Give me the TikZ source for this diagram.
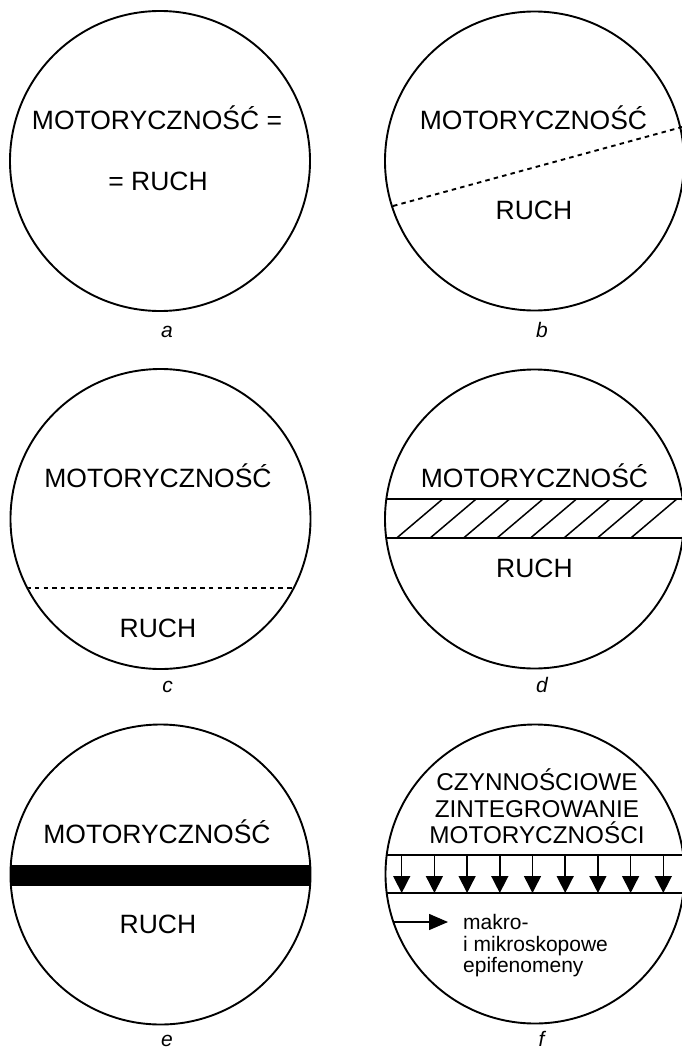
\documentclass[tikz,border=0pt]{standalone}
\usepackage{fontspec}
\setmainfont{Liberation Sans}
\usetikzlibrary{arrows.meta}
\begin{document}
\begin{tikzpicture}[x=1pt,y=-1pt,
  ring/.style={draw, line width=1.9pt},
  chord/.style={line width=1.9pt},
  dashchord/.style={line width=1.9pt, dash pattern=on 4.5pt off 4.2pt},
  hatchline/.style={line width=1.5pt},
  big/.style={font=\fontsize{26.5}{28}\selectfont, inner sep=0pt, anchor=base},
  mid/.style={font=\fontsize{24.3}{26}\selectfont, inner sep=0pt, anchor=base},
  small/.style={font=\fontsize{21}{22}\selectfont, inner sep=0pt, anchor=base west},
  lab/.style={font=\fontsize{21}{22}\selectfont\itshape, inner sep=0pt, anchor=base},
  downarrow/.style={line width=1.5pt, -{Triangle[length=17pt,width=17pt]}},
  sidearrow/.style={line width=1.5pt, -{Triangle[length=19pt,width=16pt]}}]
\useasboundingbox (0,0) rectangle (682,1052);
% circle centres
\coordinate (oa) at (160,161);
\coordinate (ob) at (534.5,161);
\coordinate (oc) at (160.5,519);
\coordinate (od) at (534.5,519);
\coordinate (oe) at (160.5,874.5);
\coordinate (of) at (535,874);

% ---- a
\draw[ring] (oa) circle[radius=150pt];
\node[big] (ta1) at (157,129) {MOTORYCZNOŚĆ =};
\node[big] (ta2) at (158,190.5) {= RUCH};
\node[lab] (la) at (167,337) {a};

% ---- b
\draw[ring] (ob) circle[radius=149.5pt];
\coordinate (b1) at (393,206);
\coordinate (b2) at (684,126.5);
\draw[dashchord] (b1) -- (b2);
\node[big] (tb1) at (533.5,129) {MOTORYCZNOŚĆ};
\node[big] (tb2) at (534,219) {RUCH};
\node[lab] (lb) at (542,337) {b};

% ---- c
\draw[ring] (oc) circle[radius=150pt];
\begin{scope}
  \clip (oc) circle[radius=149pt];
  \draw[dashchord] (0,588) -- (330,588);
\end{scope}
\node[big] (tc1) at (158,487) {MOTORYCZNOŚĆ};
\node[big] (tc2) at (158,637) {RUCH};
\node[lab] (lc) at (167.5,692) {c};

% ---- d
\draw[ring] (od) circle[radius=149.5pt];
\begin{scope}
  \clip (od) circle[radius=149pt];
  \draw[chord] (370,499) -- (700,499);
  \draw[chord] (370,538) -- (700,538);
  \foreach \i in {0,...,7}
    \draw[hatchline] ({396.7+33.45*\i},538) -- ({442.7+33.45*\i},499);
\end{scope}
\node[big] (td1) at (534.5,487) {MOTORYCZNOŚĆ};
\node[big] (td2) at (534.5,577) {RUCH};
\node[lab] (ld) at (542,692) {d};

% ---- e
\begin{scope}
  \clip (oe) circle[radius=150pt];
  \fill (0,865) rectangle (330,886);
\end{scope}
\draw[ring] (oe) circle[radius=150pt];
\node[big] (te1) at (157,843.5) {MOTORYCZNOŚĆ};
\node[big] (te2) at (158,933.5) {RUCH};
\node[lab] (le) at (167,1046) {e};

% ---- f
\draw[ring] (of) circle[radius=149.5pt];
\begin{scope}
  \clip (of) circle[radius=149pt];
  \draw[chord] (370,855) -- (700,855);
  \draw[chord] (370,893) -- (700,893);
\end{scope}
\foreach \x in {401.7,434.4,467.1,499.8,532.5,565.2,597.9,630.6,663.3}
  \draw[downarrow] (\x,855) -- (\x,893);
\node[mid] (tf1) at (537,790) {CZYNNOŚCIOWE};
\node[mid] (tf2) at (537,817) {ZINTEGROWANIE};
\node[mid] (tf3) at (537,843) {MOTORYCZNOŚCI};
\coordinate (fa) at (394,922);
\node[small] (tf4) at (463,929.5) {makro-};
\node[small] (tf5) at (463,951) {i mikroskopowe};
\node[small] (tf6) at (463,972.5) {epifenomeny};
\draw[sidearrow] (fa) -- (448,922);
\node[lab] (lf) at (541.5,1046) {f};
\end{tikzpicture}
\end{document}
